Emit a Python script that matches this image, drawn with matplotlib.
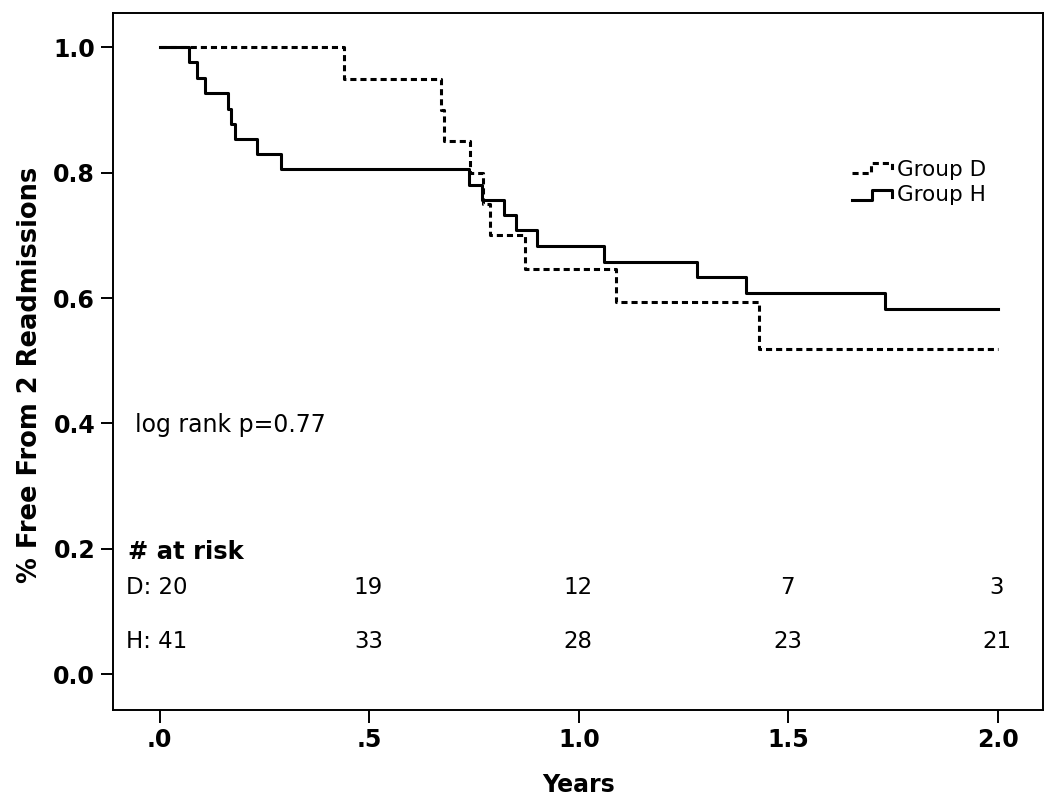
import matplotlib
matplotlib.use("Agg")
import matplotlib.pyplot as plt
from matplotlib.lines import Line2D

plt.rcParams['font.family'] = ['DejaVu Sans']

# Kaplan-Meier step data (event times in years, survival after each step)
h_times = [0.0, 0.070, 0.088, 0.107, 0.162, 0.169, 0.179, 0.231, 0.290,
           0.737, 0.770, 0.821, 0.851, 0.900, 1.060, 1.281, 1.400, 1.730, 2.0]
h_surv = [1.0, 0.976, 0.951, 0.927, 0.902, 0.878, 0.854, 0.829, 0.805,
          0.781, 0.756, 0.732, 0.708, 0.683, 0.658, 0.634, 0.608, 0.583, 0.583]

d_times = [0.0, 0.440, 0.671, 0.679, 0.740, 0.772, 0.788, 0.871, 1.088, 1.430, 2.0]
d_surv = [1.0, 0.95, 0.90, 0.85, 0.80, 0.75, 0.70, 0.647, 0.593, 0.518, 0.518]

risk_times = [0.0, 0.5, 1.0, 1.5, 2.0]
risk_d = [20, 19, 12, 7, 3]
risk_h = [41, 33, 28, 23, 21]

x_ticks = [0.0, 0.5, 1.0, 1.5, 2.0]
x_ticklabels = ['.0', '.5', '1.0', '1.5', '2.0']
y_ticks = [0.0, 0.2, 0.4, 0.6, 0.8, 1.0]
y_ticklabels = ['0.0', '0.2', '0.4', '0.6', '0.8', '1.0']

fig = plt.figure(figsize=(10.5, 8.01), dpi=100)
ax = fig.add_axes([113.3 / 1050, 1 - 710 / 801, (1042.7 - 113.3) / 1050, (710 - 12.7) / 801])

ax.step(d_times, d_surv, where='post', color='black', lw=2.2,
        linestyle=(0, (2.0, 1.3)))
ax.step(h_times, h_surv, where='post', color='black', lw=2.2)

ax.set_xlim(-0.111, 2.107)
ax.set_ylim(-0.057, 1.055)
ax.set_xticks(x_ticks)
ax.set_xticklabels(x_ticklabels)
ax.set_yticks(y_ticks)
ax.set_yticklabels(y_ticklabels)
for lab in ax.get_xticklabels() + ax.get_yticklabels():
    lab.set_fontweight('bold')
    lab.set_fontsize(17)
ax.tick_params(direction='out', length=9, width=1.4, pad=4)
for sp in ax.spines.values():
    sp.set_linewidth(1.4)

ax.set_xlabel('Years', fontsize=17, fontweight='bold')
ax.xaxis.set_label_coords((579 - 113.3) / (1042.7 - 113.3), -(785 - 710) / (710 - 12.7))
ax.set_ylabel('% Free From 2 Readmissions', fontsize=18.5, fontweight='bold')
ax.yaxis.set_label_coords(-(113.3 - 30) / (1042.7 - 113.3), (710 - 375) / (710 - 12.7))
ax.yaxis.label.set_va('center')
ax.xaxis.label.set_va('center')

ax.text(-0.06, 0.398, 'log rank p=0.77', fontsize=17, va='center', ha='left')
ax.text(-0.076, 0.195, '# at risk', fontsize=17.5, fontweight='bold', va='center', ha='left')
ax.text(-0.081, 0.138, 'D: 20', fontsize=16.5, va='center', ha='left')
ax.text(-0.081, 0.052, 'H: 41', fontsize=16.5, va='center', ha='left')
for t, d, h in zip(risk_times[1:], risk_d[1:], risk_h[1:]):
    ax.text(t - 0.002, 0.138, str(d), fontsize=16.5, va='center', ha='center')
    ax.text(t - 0.002, 0.052, str(h), fontsize=16.5, va='center', ha='center')

# legend with step-shaped symbols
def fx(px):
    return (px - 113.3) / (1042.7 - 113.3)

def fy(py):
    return (710 - py) / (710 - 12.7)

ax.add_line(Line2D([fx(852), fx(871), fx(871), fx(892), fx(892)],
                   [fy(173), fy(173), fy(163), fy(163), fy(173)],
                   transform=ax.transAxes, color='black', lw=2.2,
                   linestyle=(0, (2.0, 1.3))))
ax.add_line(Line2D([fx(852), fx(872), fx(872), fx(892), fx(892)],
                   [fy(200), fy(200), fy(190), fy(190), fy(197)],
                   transform=ax.transAxes, color='black', lw=2.2))
ax.text(fx(897), fy(170), 'Group D', transform=ax.transAxes, fontsize=15.5,
        va='center', ha='left')
ax.text(fx(897), fy(195), 'Group H', transform=ax.transAxes, fontsize=15.5,
        va='center', ha='left')

fig.savefig('out.png', dpi=100)
